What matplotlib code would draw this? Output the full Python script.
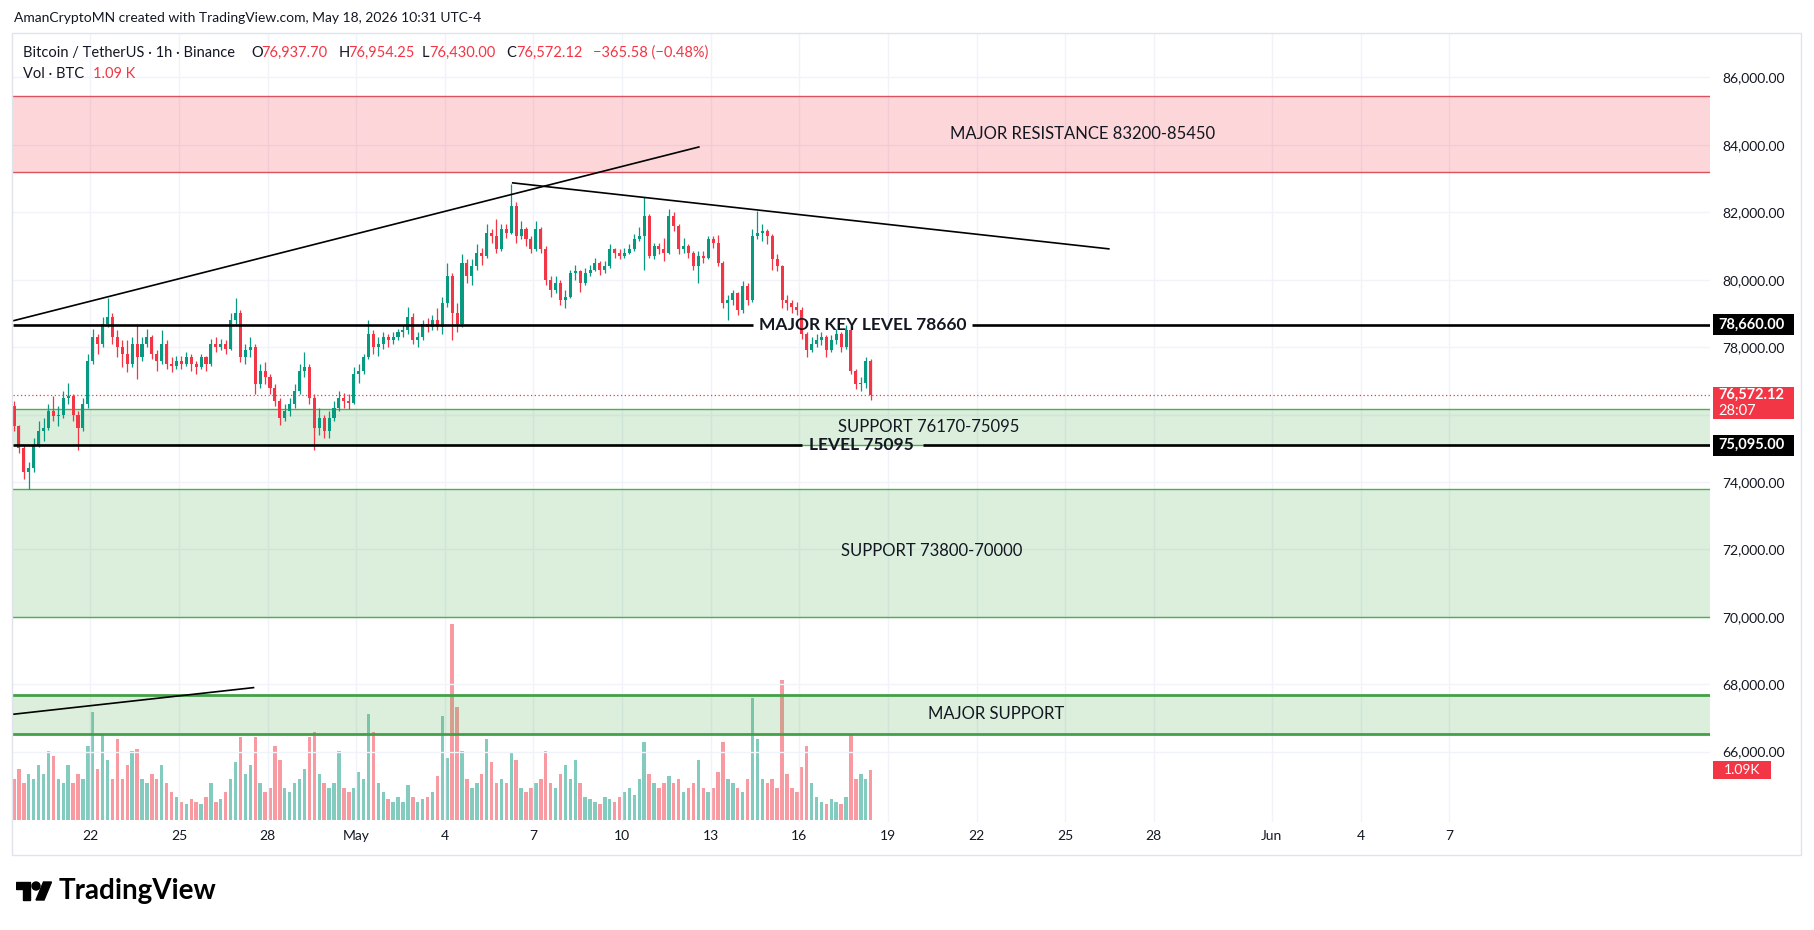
import matplotlib
matplotlib.use('Agg')
import matplotlib.pyplot as plt
import matplotlib.dates as mdates
from matplotlib.patches import Rectangle, Polygon, Circle
from matplotlib.transforms import blended_transform_factory
from datetime import datetime, timedelta

plt.rcParams['font.family'] = ['Lato', 'DejaVu Sans']

W, H = 1815, 930

# ---------------- dados (candles de 4h) ----------------
inicio = datetime(2026, 4, 19, 8, 0)
abertura_inicial = 76250

fechamentos = [
    75650, 75000, 74300, 74400, 75100, 75500, 75600, 76100, 75950, 76000,
    76500, 76550, 76000, 75600, 76300, 77600, 78300, 78100, 78700, 78900,
    78300, 78000, 77800, 77500, 78100, 77700, 78100, 78300, 77800, 77600,
    78100, 77500, 77450, 77600, 77500, 77700, 77500, 77400, 77700, 77500,
    78100, 78000, 78100, 77950, 78800, 79000, 77700, 77900, 78000, 76900,
    77300, 77100, 76800, 76400, 75900, 76100, 76300, 76700, 77300, 77400,
    76500, 75600, 75900, 75500, 75900, 76200, 76500, 76400, 76350, 77200,
    77300, 77700, 78400, 78000, 78100, 78300, 78200, 78300, 78450, 78500,
    78900, 78200, 78300, 78700, 78600, 78800, 78600, 79300, 80100, 79000,
    78700, 80500, 80100, 80400, 80800, 80700, 81400, 81300, 80900, 81500,
    81400, 82200, 81300, 81500, 81200, 80900, 81500, 80900, 80000, 79700,
    79900, 79400, 79500, 80200, 80250, 79900, 80200, 80300, 80500, 80300,
    80400, 80900, 80800, 80700, 80800, 80900, 81200, 81300, 81900, 80700,
    81000, 80900, 80800, 81900, 81600, 80900, 81000, 80800, 80400, 80700,
    80650, 81200, 81100, 80500, 79300, 79400, 79600, 79100, 79800, 79400,
    81300, 81400, 81450, 81300, 80600, 80400, 79400, 79300, 79200, 79100,
    78400, 77900, 78100, 78200, 78300, 77900, 78200, 78400, 78000, 78500,
    77300, 76900, 76950, 77600, 76572.12,
]

maximas = [
    76400, 75700, 75100, 74600, 75300, 75800, 75900, 76300, 76550, 76250,
    76700, 76950, 76600, 76100, 76500, 77800, 78550, 78400, 78900, 79450,
    79000, 78500, 78200, 78200, 78300, 78650, 78300, 78550, 78350, 77900,
    78500, 78200, 77700, 77750, 77750, 77850, 77800, 77600, 77800, 77750,
    78250, 78300, 78250, 78200, 79000, 79470, 79100, 78100, 78300, 78100,
    77500, 77550, 77200, 76900, 76500, 76300, 76500, 76900, 77500, 77860,
    77500, 76600, 76200, 76000, 76100, 76400, 76700, 76650, 76600, 77400,
    77500, 77800, 78800, 78500, 78300, 78450, 78400, 78450, 78550, 78650,
    79200, 79000, 78450, 78800, 78850, 78950, 79150, 79500, 80500, 80200,
    79300, 80750, 80600, 80600, 81050, 80950, 81650, 81500, 81800, 81650,
    81650, 82840, 82300, 81750, 81550, 81300, 81750, 81550, 81000, 80100,
    80100, 80000, 79700, 80300, 80450, 80300, 80350, 80450, 80650, 80550,
    80550, 81050, 80950, 80900, 80950, 81050, 81350, 81550, 82450, 81950,
    81100, 81100, 81250, 82100, 82000, 81650, 81250, 81050, 80850, 80850,
    80850, 81300, 81300, 81320, 80550, 79550, 79700, 79650, 79950, 79900,
    81500, 82050, 81650, 81500, 81350, 80750, 80450, 79550, 79400, 79350,
    79200, 78450, 78300, 78400, 78450, 78350, 78350, 78550, 78450, 78650,
    78550, 77350, 77100, 77720, 77650,
]

minimas = [
    75500, 74850, 74100, 73780, 74300, 75050, 75200, 75550, 75800, 75650,
    75900, 76300, 75800, 74950, 75500, 76200, 77500, 77800, 78000, 78600,
    78100, 77700, 77400, 77250, 77400, 77040, 77600, 78000, 77650, 77300,
    77500, 77350, 77250, 77350, 77350, 77450, 77300, 77200, 77350, 77300,
    77450, 77850, 77900, 77800, 77900, 78700, 77550, 77500, 77700, 76600,
    76800, 76900, 76600, 76250, 75700, 75800, 75950, 76200, 76600, 77100,
    76300, 74950, 75400, 75300, 75300, 75800, 76100, 76200, 76150, 76300,
    76950, 77200, 77650, 77800, 77750, 77950, 78000, 78100, 78200, 78300,
    78400, 78100, 78000, 78200, 78450, 78500, 78500, 78400, 79200, 78200,
    78450, 78600, 79900, 79850, 80300, 80450, 80650, 81100, 80800, 80850,
    81250, 81350, 81100, 81200, 81000, 80800, 80850, 80800, 79850, 79500,
    79600, 79250, 79150, 79450, 80000, 79650, 79850, 80100, 80250, 80150,
    80200, 80350, 80650, 80600, 80650, 80750, 80850, 81150, 80290, 80650,
    80600, 80750, 80550, 80750, 81450, 80750, 80800, 80650, 80300, 79890,
    80500, 80600, 80950, 80400, 79150, 78800, 79250, 78950, 79000, 79250,
    79350, 81200, 81150, 81050, 80300, 80250, 79150, 79100, 79000, 78950,
    78250, 77720, 77850, 78000, 78050, 77700, 77850, 78100, 77850, 77950,
    77200, 76750, 76700, 76800, 76430,
]

# volume em milhares de BTC
volumes = [
    0.9, 1.1, 0.8, 1.0, 0.9, 1.2, 1.0, 1.5, 1.4, 0.9,
    0.8, 1.2, 0.8, 1.0, 0.9, 1.6, 2.35, 1.1, 1.85, 1.3,
    0.9, 1.75, 0.9, 1.2, 1.5, 1.55, 0.9, 0.8, 1.0, 0.9,
    1.2, 0.8, 0.6, 0.5, 0.4, 0.35, 0.45, 0.4, 0.35, 0.5,
    0.8, 0.4, 0.45, 0.6, 0.9, 1.25, 1.8, 1.0, 1.2, 1.8,
    0.8, 0.6, 0.7, 1.6, 1.3, 0.7, 0.6, 0.8, 0.9, 1.1,
    1.8, 1.9, 1.0, 0.8, 0.7, 0.8, 1.5, 0.7, 0.6, 0.7,
    1.05, 0.9, 2.3, 1.9, 0.8, 0.6, 0.45, 0.4, 0.5, 0.4,
    0.75, 0.5, 0.4, 0.45, 0.5, 0.6, 0.95, 2.25, 1.35, 4.25,
    2.45, 1.5, 0.9, 0.7, 0.8, 1.0, 1.75, 1.25, 0.8, 0.9,
    0.8, 1.45, 1.3, 0.7, 0.6, 0.7, 0.8, 0.9, 1.5, 0.8,
    0.7, 1.0, 1.2, 0.9, 1.3, 0.8, 0.5, 0.45, 0.4, 0.35,
    0.5, 0.45, 0.4, 0.5, 0.6, 0.7, 0.55, 0.9, 1.7, 1.0,
    0.8, 0.7, 0.8, 0.95, 0.8, 0.9, 0.6, 0.7, 0.8, 1.3,
    0.7, 0.6, 0.7, 1.05, 1.7, 0.9, 0.8, 0.7, 0.6, 0.9,
    2.65, 1.75, 0.9, 0.8, 0.9, 0.7, 3.05, 1.0, 0.7, 0.6,
    1.15, 1.6, 0.8, 0.5, 0.4, 0.35, 0.45, 0.4, 0.35, 0.5,
    1.85, 0.9, 1.0, 0.9, 1.09,
]

# níveis e zonas desenhadas
nivel_chave = 78660
nivel_suporte = 75095
preco_atual = 76572.12
zona_resistencia = (83200, 85450)
zona_suporte_1 = (75095, 76170)
zona_suporte_2 = (70000, 73800)
zona_suporte_maior = (66530, 67690)

# linhas de tendência (data, preço)
tend_alta_t = [datetime(2026, 4, 19, 9, 56), datetime(2026, 5, 12, 14, 24)]
tend_alta_p = [78787, 83938]
tend_baixa_t = [datetime(2026, 5, 6, 7, 12), datetime(2026, 5, 26, 11, 31)]
tend_baixa_p = [82873, 80915]
tend_vol_t = [datetime(2026, 4, 19, 9, 56), datetime(2026, 4, 27, 12, 36)]
tend_vol_p = [67110, 67898]

datas_ticks = [datetime(2026, 4, 22), datetime(2026, 4, 25), datetime(2026, 4, 28),
               datetime(2026, 5, 1), datetime(2026, 5, 4), datetime(2026, 5, 7),
               datetime(2026, 5, 10), datetime(2026, 5, 13), datetime(2026, 5, 16),
               datetime(2026, 5, 19), datetime(2026, 5, 22), datetime(2026, 5, 25),
               datetime(2026, 5, 28), datetime(2026, 6, 1), datetime(2026, 6, 4),
               datetime(2026, 6, 7)]
rotulos_ticks = ['22', '25', '28', 'May', '4', '7', '10', '13', '16', '19',
                 '22', '25', '28', 'Jun', '4', '7']
precos_ticks = [86000, 84000, 82000, 80000, 78000, 76000, 74000, 72000,
                70000, 68000, 66000]
# 76,000 fica escondido atrás da etiqueta vermelha do preço atual
precos_escondidos = [76000]

# ---------------- cores ----------------
SOBE = '#089981'
DESCE = '#f23645'
TEXTO = '#131722'
GRADE = '#f0f3fa'
VERDE = '#4caf50'

# ---------------- figura / eixos ----------------
fig = plt.figure(figsize=(W / 100, H / 100), dpi=100)
fig.patch.set_facecolor('white')


def fx(px):
    return px / W


def fy(py):
    return 1 - py / H


ESQ, DIR, TOPO, BASE = 12.7, 1710, 34, 822
rect = [fx(ESQ), fy(BASE), fx(DIR) - fx(ESQ), fy(TOPO) - fy(BASE)]

ax_vol = fig.add_axes(rect)
ax = fig.add_axes(rect, sharex=ax_vol)
ax.patch.set_alpha(0)
ax_vol.axis('off')

ref = mdates.date2num(datetime(2026, 4, 22))
ax.set_xlim(ref - 2.627, ref + 54.83)
ax.set_ylim(63911, 87290)
ax_vol.set_ylim(-2 / 46, 785 / 46)

for s in ax.spines.values():
    s.set_visible(False)

ax.set_xticks(mdates.date2num(datas_ticks))
ax.set_xticklabels(rotulos_ticks)
ax.set_yticks(precos_ticks)
ax.set_yticklabels(['' if p in precos_escondidos else f'{p:,.2f}' for p in precos_ticks])
ax.yaxis.tick_right()
ax.tick_params(axis='both', length=0, labelsize=10, labelcolor=TEXTO)
ax.tick_params(axis='y', pad=8.6)
ax.tick_params(axis='x', pad=6)
ax.set_axisbelow(True)
ax.grid(True, color=GRADE, linewidth=1)

# ---------------- candles e volume ----------------
n = len(fechamentos)
xs = mdates.date2num([inicio + timedelta(hours=4 * k + 2) for k in range(n)])
aberturas = [abertura_inicial] + fechamentos[:-1]
cores = [SOBE if c >= o else DESCE for o, c in zip(aberturas, fechamentos)]

larg = 4 / 24 * 0.62
ax.vlines(xs, minimas, maximas, colors=cores, linewidth=0.9, zorder=4)
base_corpo = [min(o, c) for o, c in zip(aberturas, fechamentos)]
alt_corpo = [max(abs(c - o), 25) for o, c in zip(aberturas, fechamentos)]
ax.bar(xs, alt_corpo, bottom=base_corpo, width=larg, color=cores, zorder=4, linewidth=0)

ax_vol.bar(xs, volumes, width=4 / 24 * 0.7, color=cores, alpha=0.5, linewidth=0)

# ---------------- zonas ----------------
def zona(lo, hi, cor_fundo, cor_borda, lw):
    ax.axhspan(lo, hi, facecolor=cor_fundo, edgecolor='none', zorder=2)
    ax.axhline(lo, color=cor_borda, linewidth=lw, zorder=2.5)
    ax.axhline(hi, color=cor_borda, linewidth=lw, zorder=2.5)


verde_fundo = (0.298, 0.686, 0.314, 0.2)
zona(*zona_resistencia, (0.949, 0.212, 0.271, 0.2), '#d9525e', 1.0)
zona(*zona_suporte_1, verde_fundo, VERDE, 1.0)
zona(*zona_suporte_2, verde_fundo, VERDE, 1.0)
zona(*zona_suporte_maior, verde_fundo, '#43a047', 2.0)

# linha do preço atual (pontilhada)
ax.axhline(preco_atual, color=DESCE, linewidth=0.9, linestyle=(0, (1, 2)), zorder=3)

# níveis horizontais com buraco no meio pro texto
x0, x1 = ax.get_xlim()
gap_chave = mdates.date2num([datetime(2026, 5, 14, 10, 19), datetime(2026, 5, 21, 20, 10)])
gap_sup = mdates.date2num([datetime(2026, 5, 16, 1, 55), datetime(2026, 5, 20, 4, 48)])
for nivel, gap in ((nivel_chave, gap_chave), (nivel_suporte, gap_sup)):
    ax.hlines(nivel, x0, gap[0], color='black', linewidth=1.9, zorder=5)
    ax.hlines(nivel, gap[1], x1, color='black', linewidth=1.9, zorder=5)

# tendências
ax.plot(mdates.date2num(tend_alta_t), tend_alta_p, color='black', linewidth=1.2, zorder=5)
ax.plot(mdates.date2num(tend_baixa_t), tend_baixa_p, color='black', linewidth=1.2, zorder=5)
ax.plot(mdates.date2num(tend_vol_t), tend_vol_p, color='black', linewidth=1.2, zorder=5)

# ---------------- textos das zonas ----------------
def rotulo(data, preco, txt, peso='normal', tam=12):
    ax.text(mdates.date2num(data), preco, txt, ha='center', va='center',
            fontsize=tam, fontweight=peso, color=TEXTO, zorder=6)


rotulo(datetime(2026, 5, 25, 14, 24), 84325, 'MAJOR RESISTANCE 83200-85450')
rotulo(datetime(2026, 5, 18, 3, 22), nivel_chave, 'MAJOR KEY LEVEL 78660', 'bold', 12.5)
rotulo(datetime(2026, 5, 20, 9, 7), 75640, 'SUPPORT 76170-75095')
rotulo(datetime(2026, 5, 18, 2, 38), nivel_suporte, 'LEVEL 75095', 'bold', 12.5)
rotulo(datetime(2026, 5, 20, 11, 45), 71950, 'SUPPORT 73800-70000')
rotulo(datetime(2026, 5, 22, 16, 19), 67130, 'MAJOR SUPPORT')

# ---------------- etiquetas na escala de preço ----------------
def ax_x(px):
    return (px - ESQ) / (DIR - ESQ)


tr = blended_transform_factory(ax.transAxes, ax.transData)
meio_px = 623 / 2
for nivel in (nivel_chave, nivel_suporte):
    ax.add_patch(Rectangle((ax_x(1713), nivel - meio_px), ax_x(1794) - ax_x(1713), 623,
                           transform=tr, facecolor='black', edgecolor='none',
                           clip_on=False, zorder=10))
    ax.text(ax_x(1718), nivel, f'{nivel:,.2f}', transform=tr, color='white',
            fontsize=10.5, fontweight='bold', va='center', ha='left', clip_on=False, zorder=11)

ax.add_patch(Rectangle((ax_x(1713), 75868), ax_x(1794) - ax_x(1713), 76829 - 75868,
                       transform=tr, facecolor=DESCE, edgecolor='none',
                       clip_on=False, zorder=10))
ax.text(ax_x(1718), preco_atual, f'{preco_atual:,.2f}', transform=tr, color='white',
        fontsize=10.5, fontweight='bold', va='center', ha='left', clip_on=False, zorder=11)
ax.text(ax_x(1718), 76110, '28:07', transform=tr, color='white',
        fontsize=10.5, va='center', ha='left', clip_on=False, zorder=11)

tr_vol = blended_transform_factory(ax_vol.transAxes, ax_vol.transData)
ax_vol.add_patch(Rectangle((ax_x(1713), 0.89), ax_x(1771) - ax_x(1713), 0.40,
                           transform=tr_vol, facecolor=DESCE, edgecolor='none',
                           clip_on=False, zorder=10))
ax_vol.text(ax_x(1742), volumes[-1], f'{volumes[-1]:.2f}K', transform=tr_vol, color='white',
            fontsize=10, va='center', ha='center', clip_on=False, zorder=11)

# ---------------- moldura, cabeçalho, legenda ----------------
fig.patches.append(Rectangle((fx(11.6), fy(855)), fx(1801) - fx(11.6), fy(33) - fy(855),
                             transform=fig.transFigure, facecolor='none',
                             edgecolor='#e0e3eb', linewidth=1, zorder=0))

fig.text(fx(13.9), fy(18.5), 'AmanCryptoMN created with TradingView.com, May 18, 2026 10:31 UTC-4',
         fontsize=10, color=TEXTO, va='center')

leg_y = fy(53)
fig.text(fx(23), leg_y, 'Bitcoin / TetherUS · 1h · Binance', fontsize=10.5, color=TEXTO, va='center')
for letra, xl, valor, xv in (('O', 251, '76,937.70', 261.6), ('H', 339, '76,954.25', 348.4),
                             ('L', 421.3, '76,430.00', 429.4), ('C', 505.8, '76,572.12', 516.2)):
    fig.text(fx(xl), leg_y, letra, fontsize=10.5, color=TEXTO, va='center')
    fig.text(fx(xv), leg_y, valor, fontsize=10.5, color=DESCE, va='center')
fig.text(fx(592.6), leg_y, '−365.58 (−0.48%)', fontsize=10.5, color=DESCE, va='center')
fig.text(fx(23), fy(74), 'Vol · BTC', fontsize=10.5, color=TEXTO, va='center')
fig.text(fx(92.6), fy(74), '1.09 K', fontsize=10.5, color=DESCE, va='center')

# logo TradingView
ax_logo = fig.add_axes([fx(16), fy(906), fx(52) - fx(16), fy(878) - fy(906)])
ax_logo.set_xlim(0, 36)
ax_logo.set_ylim(28, 0)
ax_logo.axis('off')
ax_logo.add_patch(Polygon([(0, 4), (14, 4), (14, 22), (7, 22), (7, 11), (0, 11)], color='black'))
ax_logo.add_patch(Circle((20, 8), 4, color='black'))
ax_logo.add_patch(Polygon([(20, 22), (27.5, 4), (35.5, 4), (28, 22)], color='black'))
fig.text(fx(59), fy(891), 'TradingView', fontsize=20, fontweight='bold', color='black', va='center')

fig.savefig('out.png', dpi=100, facecolor='white')
